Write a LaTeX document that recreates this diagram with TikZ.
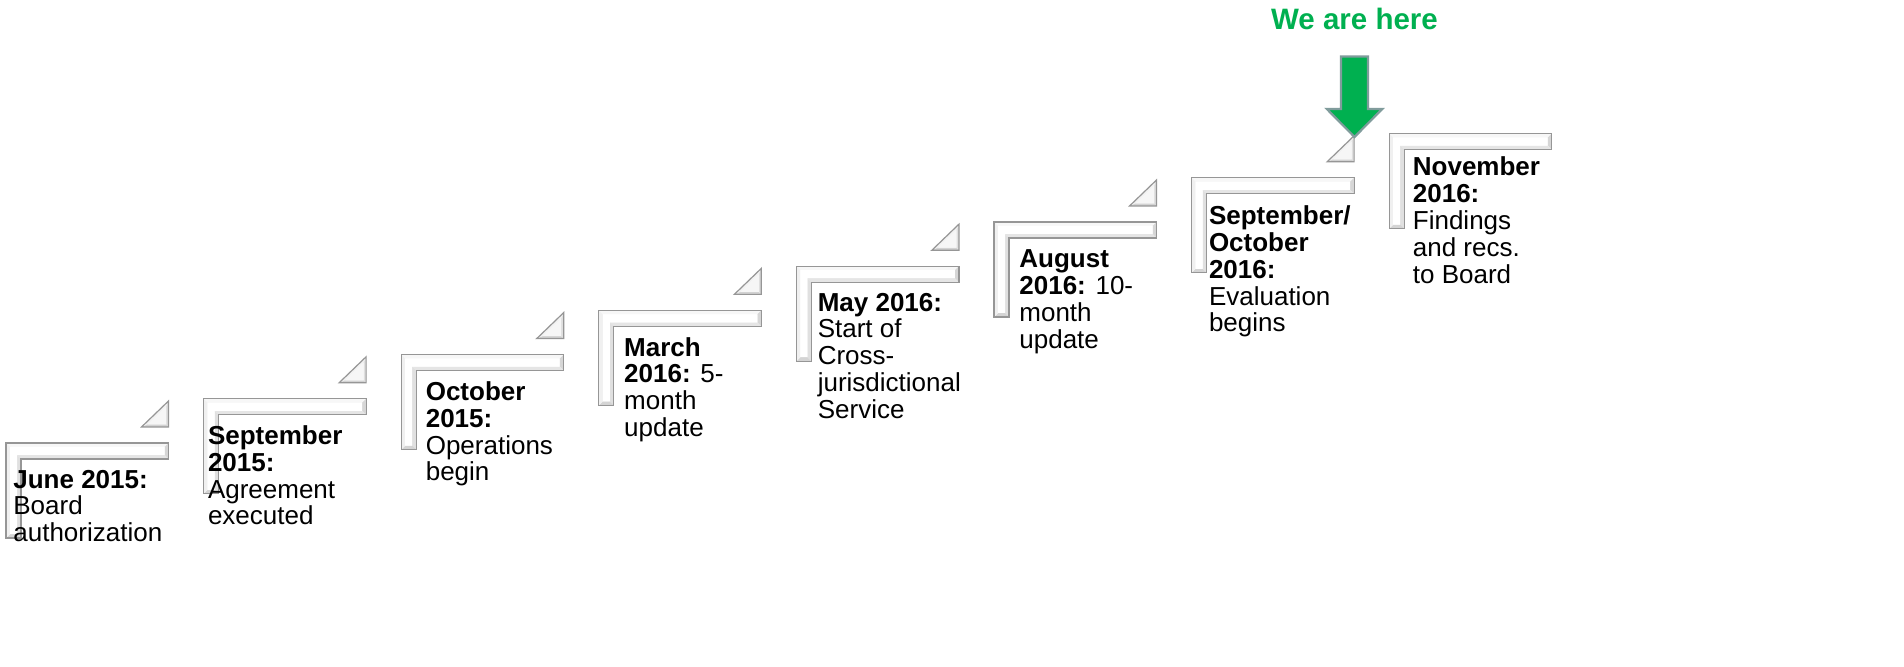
\documentclass[tikz,border=0pt]{standalone}
\usepackage{fontspec}
\setmainfont{Liberation Sans}
\definecolor{wegreen}{RGB}{0,176,80}
\definecolor{arrowedge}{RGB}{128,156,156}
\definecolor{frameline}{RGB}{150,150,150}
\tikzset{
  steptxt/.style={anchor=base west, inner sep=0pt, font=\fontsize{13}{13.3}\selectfont},
  frameedge/.style={draw=frameline, line width=0.6pt},
}
\newcommand\stepframe{%
  \fill[gray!6] (0,0) -- (162.5,0) -- (158.5,4) -- (4,4) -- cycle;
  \fill[gray!32] (162.5,0) -- (162.5,16) -- (158.5,12) -- (158.5,4) -- cycle;
  \fill[gray!20] (162.5,16) -- (15,16) -- (11,12) -- (158.5,12) -- cycle;
  \fill[gray!24] (15,16) -- (15,95) -- (11,91) -- (11,12) -- cycle;
  \fill[gray!34] (15,95) -- (0,95) -- (4,91) -- (11,91) -- cycle;
  \fill[gray!12] (0,95) -- (0,0) -- (4,4) -- (4,91) -- cycle;
  \fill[white] (4,4) -- (158.5,4) -- (158.5,12) -- (11,12) -- (11,91) -- (4,91) -- cycle;
  \path[frameedge] (0,0) -- (162.5,0) -- (162.5,16) -- (15,16) -- (15,95) -- (0,95) -- cycle;
}
\newcommand\steptri{%
  \fill[gray!10] (135.5,-16) -- (162.5,-42) -- (160,-36.1) -- (141.7,-18.5) -- cycle;
  \fill[gray!35] (135.5,-16) -- (162.5,-16) -- (160,-18.5) -- (141.7,-18.5) -- cycle;
  \fill[gray!25] (162.5,-16) -- (162.5,-42) -- (160,-36.1) -- (160,-18.5) -- cycle;
  \fill[gray!7] (141.7,-18.5) -- (160,-18.5) -- (160,-36.1) -- cycle;
  \path[frameedge] (135.5,-16) -- (162.5,-16) -- (162.5,-42) -- cycle;
}
\newcommand\lines[1]{\begin{tabular}[t]{@{}l@{}}#1\end{tabular}}
\begin{document}
\begin{tikzpicture}[x=0.5pt,y=-0.5pt,line join=miter]
\useasboundingbox[fill=white] (0,0) rectangle (1904,667);
\foreach \i in {0,...,7}{
  \begin{scope}[shift={(6+197.6*\i,443-44.2*\i)}]
    \stepframe
  \end{scope}
}
\foreach \i in {0,...,6}{
  \begin{scope}[shift={(6+197.6*\i,443-44.2*\i)}]
    \steptri
  \end{scope}
}
\node[steptxt] (t1) at (13,488) {\lines{\textbf{June 2015:}\\ Board\\ authorization}};
\node[steptxt] (t2) at (207.6,444.8) {\lines{\textbf{September}\\ \textbf{2015:}\\ Agreement\\ executed}};
\node[steptxt] (t3) at (425.4,400.6) {\lines{\textbf{October}\\ \textbf{2015:}\\ Operations\\ begin}};
\node[steptxt] (t4) at (623.8,356.4) {\lines{\textbf{March}\\ \textbf{2016:} 5-\\ month\\ update}};
\node[steptxt] (t5) at (817.4,311.2) {\lines{\textbf{May 2016:}\\ Start of\\ Cross-\\ jurisdictional\\ Service}};
\node[steptxt] (t6) at (1019,268) {\lines{\textbf{August}\\ \textbf{2016:} 10-\\ month\\ update}};
\node[steptxt] (t7) at (1208.6,224.8) {\lines{\textbf{September/}\\ \textbf{October}\\ \textbf{2016:}\\ Evaluation\\ begins}};
\node[steptxt] (t8) at (1412.5,176) {\lines{\textbf{November}\\ \textbf{2016:}\\ Findings\\ and recs.\\ to Board}};
\path[fill=wegreen, draw=arrowedge, line width=1.1pt]
  (1341,56.6) -- (1368,56.6) -- (1368,109) -- (1382.2,109) -- (1354.5,137)
  -- (1326.8,109) -- (1341,109) -- cycle;
\node[anchor=base, inner sep=0pt, text=wegreen, font=\bfseries\fontsize{14.75}{16}\selectfont] (here) at (1354.5,29.6) {We are here};
\end{tikzpicture}
\end{document}
